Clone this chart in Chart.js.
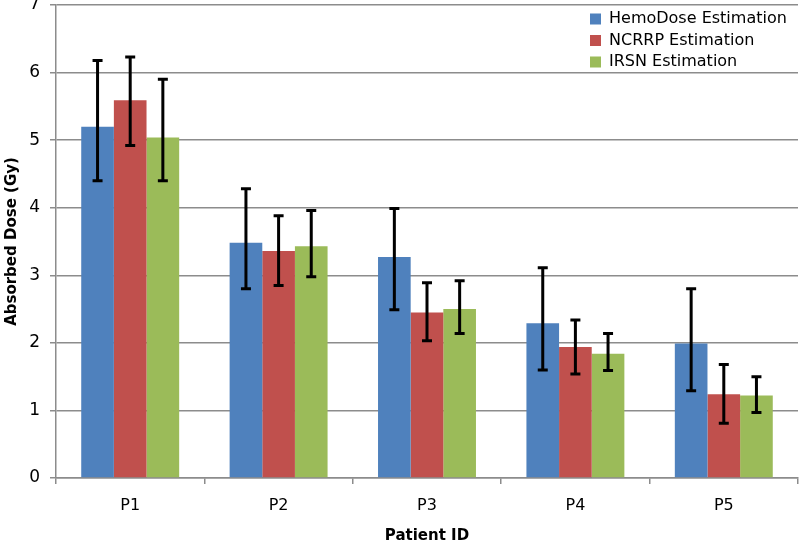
<!DOCTYPE html>
<html>
<head>
<meta charset="utf-8">
<script src="https://cdn.jsdelivr.net/npm/chart.js@4/dist/chart.umd.min.js"></script>
<style>
  body { margin: 0; background: #fff; }
  #wrap { width: 800px; height: 547px; }
</style>
</head>
<body>
<div id="wrap"><canvas id="myChart"></canvas></div>
<script>
var patients = ['P1', 'P2', 'P3', 'P4', 'P5'];

var hemoDose = [5.2, 3.48, 3.27, 2.29, 1.99];
var hemoLow  = [4.4, 2.8, 2.49, 1.6, 1.29];
var hemoHigh = [6.18, 4.28, 3.99, 3.11, 2.8];

var ncrrp     = [5.59, 3.36, 2.45, 1.94, 1.24];
var ncrrpLow  = [4.92, 2.85, 2.03, 1.54, 0.81];
var ncrrpHigh = [6.23, 3.88, 2.89, 2.34, 1.68];

var irsn     = [5.04, 3.43, 2.5, 1.84, 1.22];
var irsnLow  = [4.4, 2.98, 2.14, 1.59, 0.97];
var irsnHigh = [5.9, 3.96, 2.92, 2.14, 1.5];

var ctx = document.getElementById('myChart').getContext('2d');

// error bars, drawn on top of the bars
var errorBars = {
    id: 'errorBars',
    afterDatasetsDraw: function (chart) {
        var c = chart.ctx;
        var y = chart.scales.y;
        c.save();
        c.strokeStyle = '#000';
        c.lineWidth = 3;
        chart.data.datasets.forEach(function (ds, i) {
            var meta = chart.getDatasetMeta(i);
            meta.data.forEach(function (bar, j) {
                var top = y.getPixelForValue(ds.errHigh[j]);
                var bot = y.getPixelForValue(ds.errLow[j]);
                c.beginPath();
                c.moveTo(bar.x, top); c.lineTo(bar.x, bot);
                c.moveTo(bar.x - 5, top); c.lineTo(bar.x + 5, top);
                c.moveTo(bar.x - 5, bot); c.lineTo(bar.x + 5, bot);
                c.stroke();
            });
        });
        c.restore();
    }
};

// legend inside the plot, top right
var innerLegend = {
    id: 'innerLegend',
    afterDraw: function (chart) {
        var c = chart.ctx;
        var x0 = chart.chartArea.right - 208;
        c.save();
        c.font = '16px "DejaVu Sans"';
        c.textBaseline = 'middle';
        chart.data.datasets.forEach(function (ds, i) {
            var yy = 19 + i * 21.5;
            c.fillStyle = ds.backgroundColor;
            c.fillRect(x0, yy - 5.5, 11, 11);
            c.fillStyle = '#000';
            c.fillText(ds.label, x0 + 19, yy);
        });
        c.restore();
    }
};

var graphData = {
    type: 'bar',
    data: {
        labels: patients,
        datasets: [
            {
                label: 'HemoDose Estimation',
                data: hemoDose,
                errLow: hemoLow,
                errHigh: hemoHigh,
                backgroundColor: '#4F81BD'
            },
            {
                label: 'NCRRP Estimation',
                data: ncrrp,
                errLow: ncrrpLow,
                errHigh: ncrrpHigh,
                backgroundColor: '#C0504D'
            },
            {
                label: 'IRSN Estimation',
                data: irsn,
                errLow: irsnLow,
                errHigh: irsnHigh,
                backgroundColor: '#9BBB59'
            }
        ]
    },
    options: {
        responsive: true,
        maintainAspectRatio: false,
        animation: false,
        layout: { padding: { top: 5, right: 2, left: 0, bottom: 0 } },
        datasets: {
            bar: { categoryPercentage: 0.66, barPercentage: 1.0 }
        },
        plugins: {
            legend: { display: false },
            tooltip: { enabled: false }
        },
        scales: {
            x: {
                grid: { display: true, offset: true, drawOnChartArea: false, color: '#8c8c8c', lineWidth: 1.5, tickLength: 6 },
                border: { color: '#8c8c8c', width: 1.5 },
                ticks: { color: '#000', font: { family: 'DejaVu Sans', size: 16 }, padding: 12 },
                title: { display: true, text: 'Patient ID', color: '#000', font: { family: 'DejaVu Sans', size: 15, weight: 'bold' }, padding: { top: 6, bottom: 2 } },
                afterFit: function (s) { s.height = 69; s.paddingLeft = 0; s.paddingRight = 0; }
            },
            y: {
                min: 0,
                max: 7,
                ticks: { stepSize: 1, color: '#000', font: { family: 'DejaVu Sans', size: 17 }, padding: 10 },
                grid: { color: '#8c8c8c', lineWidth: 1.5, tickLength: 6 },
                border: { color: '#8c8c8c', width: 1.5 },
                title: { display: true, text: 'Absorbed Dose (Gy)', color: '#000', font: { family: 'DejaVu Sans', size: 15, weight: 'bold' }, padding: { top: 3, bottom: 4 } },
                afterFit: function (s) { s.width = 56; s.paddingTop = 0; s.paddingBottom = 0; }
            }
        }
    },
    plugins: [errorBars, innerLegend]
};

var myChart = new Chart(ctx, graphData);
</script>
</body>
</html>
